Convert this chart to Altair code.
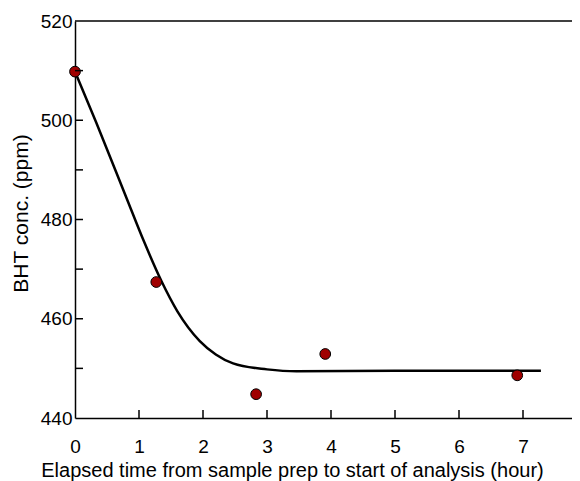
import altair as alt
import pandas as pd

# measured points
pt_x = [0.0, 1.27, 2.83, 3.91, 6.91]
pt_y = [509.8, 467.4, 444.8, 452.9, 448.6]

# fitted curve
cv_x = [0.0, 0.33, 0.8, 1.08, 1.35, 1.6, 1.95, 2.2, 2.47, 3.0, 3.46, 5.0, 7.28]
cv_y = [509.8, 499.6, 484.5, 475.5, 467.6, 461.5, 455.5, 452.8, 451.0, 449.8, 449.4, 449.5, 449.5]

x_labels = [0, 1, 2, 3, 4, 5, 6, 7]
x_ticks = [1, 2, 3, 4, 5, 6, 7]
y_labels = [440, 460, 480, 500, 520]
y_ticks = [450, 460, 470, 480, 490, 500, 510]

W, H = 497, 397
FONT = "Liberation Sans"

pts = pd.DataFrame({"x": pt_x, "y": pt_y})
cv = pd.DataFrame({"x": cv_x, "y": cv_y})
xt = pd.DataFrame({"tx": x_ticks})
yt = pd.DataFrame({"ty": y_ticks})

xs = alt.Scale(domain=[0, W / 64.0], nice=False, zero=False)
ys = alt.Scale(domain=[440, 520], nice=False, zero=False)

xaxis = alt.Axis(values=x_labels, format="d", labelFlush=False,
                 title="Elapsed time from sample prep to start of analysis (hour)",
                 grid=False, ticks=False, domainColor="black", domainWidth=1.5,
                 labelFont=FONT, labelFontSize=19, labelColor="black", labelPadding=19,
                 titleFont=FONT, titleFontSize=20, titleFontWeight="normal", titleColor="black",
                 titlePadding=4, titleX=217)
yaxis = alt.Axis(values=y_labels, format="d", labelFlush=False,
                 title="BHT conc. (ppm)", grid=False, ticks=False,
                 domainColor="black", domainWidth=1.5,
                 labelFont=FONT, labelFontSize=19, labelColor="black", labelPadding=3,
                 titleFont=FONT, titleFontSize=21, titleFontWeight="normal", titleColor="black",
                 titlePadding=9, titleY=192)

curve = alt.Chart(cv).mark_line(color="black", strokeWidth=2.5, interpolate="monotone").encode(
    x=alt.X("x:Q", scale=xs, axis=xaxis),
    y=alt.Y("y:Q", scale=ys, axis=yaxis),
)

points = alt.Chart(pts).mark_point(filled=True, fill="#a00000", stroke="black", strokeWidth=1,
                                   size=115, opacity=1, shape="circle").encode(
    x=alt.X("x:Q", scale=xs),
    y=alt.Y("y:Q", scale=ys),
)

# inward tick marks
xtick = alt.Chart(xt).mark_rule(color="black", strokeWidth=1.5).encode(
    x=alt.X("tx:Q", scale=xs),
    y=alt.value(H - 8),
    y2=alt.value(H),
)
ytick = alt.Chart(yt).mark_rule(color="black", strokeWidth=1.5).encode(
    y=alt.Y("ty:Q", scale=ys),
    x=alt.value(0),
    x2=alt.value(8),
)

topline = alt.Chart(pd.DataFrame({"a": [0]})).mark_rule(color="black", strokeWidth=1.5).encode(
    x=alt.value(0), x2=alt.value(W), y=alt.value(0)
)

chart = alt.layer(topline, curve, points, xtick, ytick).properties(
    width=W, height=H,
    autosize=alt.AutoSizeParams(type="none"),
    padding={"left": 67, "top": 13, "right": 0, "bottom": 63},
).configure_view(stroke=None)

chart.save("out.html", embed_options={"renderer": "svg", "actions": False})
